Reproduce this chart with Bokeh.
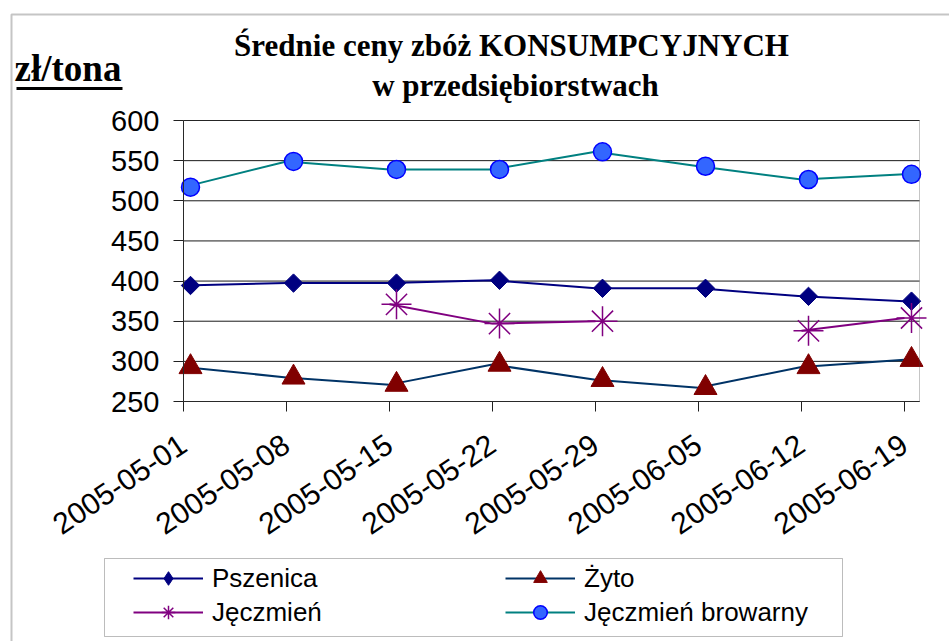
import math
import numpy as np
from bokeh.plotting import figure
from bokeh.models import (Range1d, FixedTicker, Label, BoxAnnotation, Legend,
                          LegendItem, ColumnDataSource)
from bokeh.transform import dodge
from bokeh.embed import file_html
from bokeh.resources import INLINE

# ---- data ----
dates = ["2005-05-01", "2005-05-08", "2005-05-15", "2005-05-22",
         "2005-05-29", "2005-06-05", "2005-06-12", "2005-06-19"]
pszenica = [394.5, 397.5, 397.5, 401, 391, 391, 381, 375]
zyto = [293, 280, 271, 296, 277, 267, 293, 302]
jeczmien = [np.nan, np.nan, 371, 347, 350, np.nan, 338, 354]
jeczmien_browarny = [517, 549, 539, 539, 561, 543, 526.5, 533]
y_ticks = [250, 300, 350, 400, 450, 500, 550, 600]

title_line1 = "Średnie ceny zbóż KONSUMPCYJNYCH"
title_line2 = "w przedsiębiorstwach"
unit_label = "zł/tona"
names = ["Pszenica", "Żyto", "Jęczmień", "Jęczmień browarny"]

# ---- layout (pixels of the canvas) ----
W, H = 949, 641
FX0, FX1, FY0, FY1 = 183, 919, 120, 401     # plot area: left, right, top, bottom
STEP = 103.0                                 # px per category
YMIN, YMAX = 250, 600
KY = (FY1 - FY0) / (YMAX - YMIN)

def dx(px):
    return (px - FX0) / STEP

def dy(py):
    return YMIN + (FY1 - py) / KY

src = ColumnDataSource(dict(
    x=list(range(len(dates))),
    psz=pszenica, zyt=zyto, jec=np.array(jeczmien, dtype=float), bro=jeczmien_browarny,
))

p = figure(width=W, height=H, output_backend="svg", toolbar_location=None,
           x_range=Range1d(dx(0), dx(W)), y_range=Range1d(dy(H), dy(0)),
           min_border_left=0, min_border_right=0, min_border_top=0, min_border_bottom=0)
p.background_fill_color = "white"
p.border_fill_color = "white"
p.outline_line_color = None
p.xgrid.grid_line_color = None
p.ygrid.grid_line_color = None

# horizontal grid lines inside plot area
p.segment(x0=0, x1=dx(FX1), y0=y_ticks, y1=y_ticks, line_color="#1a1a1a", line_width=1)

# axes
lab_font = "Liberation Sans"
p.xaxis.fixed_location = YMIN
p.xaxis.bounds = (0, dx(FX1))
p.xaxis.ticker = FixedTicker(ticks=list(range(len(dates))))
p.xaxis.major_label_overrides = {i: d for i, d in enumerate(dates)}
p.xaxis.major_label_orientation = math.radians(34)
p.xaxis.major_label_text_font = lab_font
p.xaxis.major_label_text_font_size = "30px"
p.xaxis.major_label_text_color = "black"
p.xaxis.major_label_standoff = 30
p.xaxis.major_tick_out = 10
p.xaxis.major_tick_in = 0
p.xaxis.minor_tick_line_color = None
p.xaxis.axis_line_color = "#202020"
p.xaxis.major_tick_line_color = "#202020"

p.yaxis.fixed_location = 0
p.yaxis.bounds = (YMIN, YMAX)
p.yaxis.ticker = FixedTicker(ticks=y_ticks)
p.yaxis.major_label_text_font = lab_font
p.yaxis.major_label_text_font_size = "29px"
p.yaxis.major_label_text_color = "black"
p.yaxis.major_label_standoff = 14
p.yaxis.major_tick_out = 10
p.yaxis.major_tick_in = 0
p.yaxis.minor_tick_line_color = None
p.yaxis.axis_line_color = "#202020"
p.yaxis.major_tick_line_color = "#202020"

# plot-area outline
p.add_layout(BoxAnnotation(left=0, right=dx(FX1), bottom=YMIN, top=YMAX,
                           fill_alpha=0, line_color="#404040", line_width=1))

off = 7 / STEP
mx = dodge("x", off)

l_psz = p.line("x", "psz", source=src, line_color="#000080", line_width=2)
# diamond symbol (used by the legend), covered by the rotated square in the plot
g_psz = p.scatter(mx, "psz", source=src, marker="diamond", size=16,
                  fill_color="#000080", line_color="#000080")
m_psz = p.scatter(mx, "psz", source=src, marker="square", angle=math.pi / 4,
                  size=13, fill_color="#000080", line_color="#000080")
l_zyt = p.line("x", "zyt", source=src, line_color="#003366", line_width=2)
m_zyt = p.scatter(mx, "zyt", source=src, marker="triangle", size=23,
                  fill_color="#800000", line_color="#800000")
l_jec = p.line("x", "jec", source=src, line_color="#800080", line_width=2)
m_jec = p.scatter(mx, "jec", source=src, marker="asterisk", size=30,
                  line_color="#800080", line_width=1.5)
l_bro = p.line("x", "bro", source=src, line_color="#008080", line_width=2)
m_bro = p.scatter(mx, "bro", source=src, marker="circle", size=18,
                  fill_color="#3366FF", line_color="#0000FF", line_width=1.5)

# legend frame
p.add_layout(BoxAnnotation(left=dx(104), right=dx(842), top=dy(558), bottom=dy(636),
                           fill_color="white", fill_alpha=1, line_color="#202020", line_width=1))

def mk_legend(items, loc):
    return Legend(items=items, location=loc, orientation="vertical",
                  border_line_alpha=0, background_fill_alpha=0,
                  padding=0, margin=0, spacing=0,
                  glyph_width=70, glyph_height=34, label_height=34,
                  label_standoff=9, label_text_font=lab_font,
                  label_text_font_size="26px", label_text_color="black")

leg_a = mk_legend([LegendItem(label=names[0], renderers=[l_psz, g_psz]),
                   LegendItem(label=names[2], renderers=[l_jec, m_jec])], (133, H - 629))
leg_b = mk_legend([LegendItem(label=names[1], renderers=[l_zyt, m_zyt]),
                   LegendItem(label=names[3], renderers=[l_bro, m_bro])], (505, H - 629))
p.add_layout(leg_a)
p.add_layout(leg_b)

# chart border (left & top visible)
p.add_layout(BoxAnnotation(left=dx(11), right=dx(W + 20), top=dy(14), bottom=dy(H + 20),
                           fill_alpha=0, line_color="#404040", line_width=2))

# titles (labels sit ~0.32 em lower than the given point, hence the lift)
ser = "Liberation Serif"
p.add_layout(Label(x=dx(511), y=dy(55 - 10), text=title_line1, text_font=ser,
                   text_font_style="bold", text_font_size="31px",
                   text_align="center", text_baseline="alphabetic", text_color="black"))
p.add_layout(Label(x=dx(515), y=dy(95 - 10), text=title_line2, text_font=ser,
                   text_font_style="bold", text_font_size="31px",
                   text_align="center", text_baseline="alphabetic", text_color="black"))
p.add_layout(Label(x=dx(14), y=dy(82 - 14), text=unit_label, text_font=ser,
                   text_font_style="bold", text_font_size="37px",
                   text_align="left", text_baseline="alphabetic", text_color="black"))
p.add_layout(BoxAnnotation(left=dx(16), right=dx(122), top=dy(86.5), bottom=dy(89.5),
                           fill_color="black", fill_alpha=1, line_alpha=0))

open("out.html", "w").write(file_html(p, INLINE))
